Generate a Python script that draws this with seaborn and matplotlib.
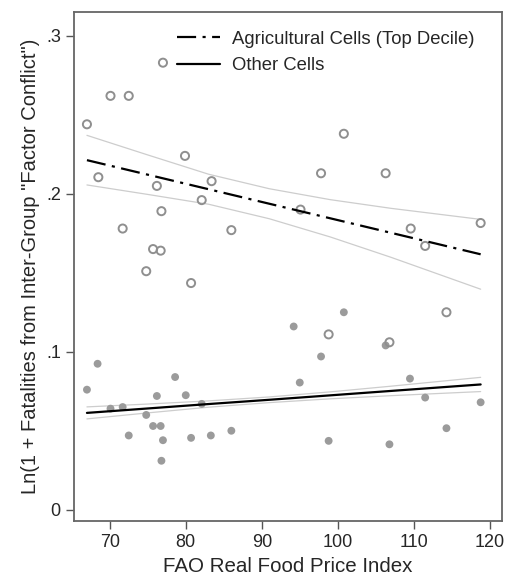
import pandas as pd
import matplotlib
matplotlib.use("Agg")
import matplotlib.pyplot as plt
import seaborn as sns

# Agricultural cells (top decile) - hollow markers
agri_price = [67.0, 68.5, 70.1, 72.5, 71.7, 77.0, 79.9, 76.2, 83.4, 82.1, 76.8, 75.7, 76.7,
              74.8, 80.7, 86.0, 95.1, 97.8, 100.8, 106.3, 109.6, 111.5, 118.8, 114.3, 98.8, 106.8]
agri_fatal = [0.244, 0.2105, 0.262, 0.262, 0.178, 0.283, 0.224, 0.205, 0.208, 0.196, 0.189, 0.165, 0.164,
              0.151, 0.1435, 0.177, 0.190, 0.213, 0.238, 0.213, 0.178, 0.167, 0.1815, 0.125, 0.111, 0.106]

# Other cells - filled markers
other_price = [67.0, 68.4, 70.1, 71.7, 72.5, 74.8, 75.7, 76.2, 76.7, 76.8, 77.0, 78.6, 80.0, 80.7,
               82.1, 83.3, 86.0, 94.2, 95.0, 97.8, 98.8, 100.8, 106.3, 106.8, 109.5, 111.5, 114.3, 118.8]
other_fatal = [0.076, 0.0924, 0.064, 0.065, 0.047, 0.060, 0.053, 0.072, 0.053, 0.031, 0.044, 0.084, 0.0725, 0.0455,
               0.067, 0.047, 0.050, 0.116, 0.0805, 0.097, 0.0436, 0.125, 0.104, 0.0414, 0.083, 0.071, 0.0516, 0.068]

# fitted lines and 95% CI bounds
fit_x = [67.0, 75.0, 83.0, 91.0, 99.0, 107.0, 118.8]
agri_fit = [0.2213, 0.2121, 0.2029, 0.1937, 0.1845, 0.1753, 0.1617]
agri_hi = [0.2370, 0.2246, 0.2124, 0.2032, 0.1963, 0.1908, 0.1838]
agri_lo = [0.2056, 0.1996, 0.1934, 0.1842, 0.1727, 0.1598, 0.1396]
other_fit = [0.0613, 0.0641, 0.0669, 0.0696, 0.0724, 0.0752, 0.0793]
other_hi = [0.0651, 0.0669, 0.0689, 0.0714, 0.0746, 0.0782, 0.0838]
other_lo = [0.0575, 0.0613, 0.0649, 0.0678, 0.0702, 0.0722, 0.0748]

agri = pd.DataFrame({"price": agri_price, "fatal": agri_fatal})
other = pd.DataFrame({"price": other_price, "fatal": other_fatal})

sns.set_style("white")
plt.rcParams["font.family"] = ["Liberation Sans", "DejaVu Sans"]

fig = plt.figure(figsize=(5.07, 5.78), dpi=100)
ax = fig.add_axes([0.146, 0.099, 0.844, 0.880])

# confidence bounds as thin grey lines
for band in (agri_hi, agri_lo, other_hi, other_lo):
    sns.lineplot(x=fit_x, y=band, ax=ax, color="#cdcdcd", lw=0.9, zorder=1)

sns.scatterplot(data=other, x="price", y="fatal", ax=ax, s=32, color="#9b9b9b",
                edgecolor="none", zorder=2)
sns.scatterplot(data=agri, x="price", y="fatal", ax=ax, s=34, facecolors="none",
                edgecolor="#8f8f8f", linewidth=1.4, zorder=3)

sns.lineplot(x=fit_x, y=agri_fit, ax=ax, color="black", lw=1.6,
             linestyle=(0, (8.6, 2.9, 1.4, 2.9)), zorder=4,
             label="Agricultural Cells (Top Decile)")
sns.lineplot(x=fit_x, y=other_fit, ax=ax, color="black", lw=1.6, zorder=4,
             label="Other Cells")

ax.set_xlim(65.3, 121.6)
ax.set_ylim(-0.007, 0.315)
ax.set_xticks([70, 80, 90, 100, 110, 120])
ax.set_yticks([0, 0.1, 0.2, 0.3])
ax.set_yticklabels(["0", ".1", ".2", ".3"])
ax.tick_params(axis="both", direction="out", length=6, width=1, color="#555555",
               labelsize=13, left=True, bottom=True)
for sp in ax.spines.values():
    sp.set_color("#666666")
    sp.set_linewidth(1.3)

ax.set_xlabel("FAO Real Food Price Index", fontsize=14.8)
ax.set_ylabel('Ln(1 + Fatalities from Inter-Group "Factor Conflict")', fontsize=14.5)

ax.legend(loc="upper left", bbox_to_anchor=(0.201, 0.996), frameon=False, fontsize=13.3,
          handlelength=2.35, handletextpad=0.62, labelspacing=0.5)

fig.savefig("out.png", dpi=100)
